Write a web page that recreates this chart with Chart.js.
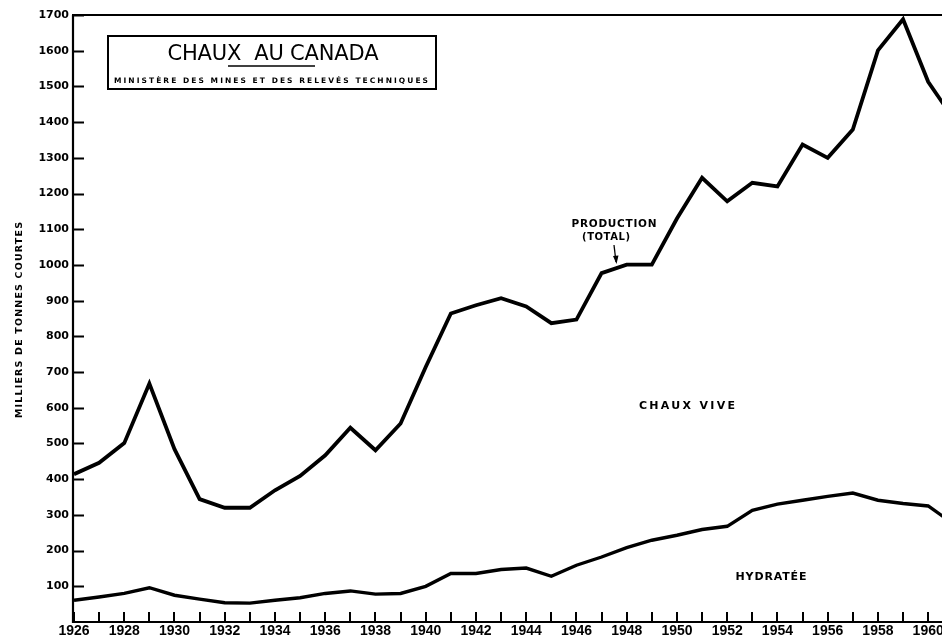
<!DOCTYPE html>
<html>
<head>
<meta charset="utf-8">
<script src="https://cdn.jsdelivr.net/npm/chart.js@4.4.1/dist/chart.umd.min.js"></script>
<style>
html,body{margin:0;padding:0;background:#fff;}
#wrap{width:942px;height:638px;position:relative;}
</style>
</head>
<body>
<div id="wrap"><canvas id="c"></canvas></div>
<script>
const years = [1926,1927,1928,1929,1930,1931,1932,1933,1934,1935,1936,1937,1938,1939,1940,1941,1942,1943,1944,1945,1946,1947,1948,1949,1950,1951,1952,1953,1954,1955,1956,1957,1958,1959,1960,1961];
const totalProduction = [414,446,501,668,484,344,320,320,369,409,467,544,481,556,714,864,887,907,884,837,847,977,1001,1001,1130,1244,1178,1230,1220,1337,1300,1379,1601,1688,1513,1410];
const hydratee = [61,70,80,96,75,64,54,53,61,68,80,87,78,80,100,136,136,147,151,128,159,182,208,229,243,259,268,313,330,341,352,361,341,332,325,275];
const yTickValues = [100,200,300,400,500,600,700,800,900,1000,1100,1200,1300,1400,1500,1600,1700];
const xTickYears = [1926,1927,1928,1929,1930,1931,1932,1933,1934,1935,1936,1937,1938,1939,1940,1941,1942,1943,1944,1945,1946,1947,1948,1949,1950,1951,1952,1953,1954,1955,1956,1957,1958,1959,1960];

const titleText = "CHAUX  AU CANADA";
const subtitleText = "MINISTÈRE DES MINES ET DES RELEVÉS TECHNIQUES";
const yAxisTitle = "MILLIERS DE TONNES COURTES";
const labelTotal1 = "PRODUCTION";
const labelTotal2 = "(TOTAL)";
const labelVive = "CHAUX VIVE";
const labelHyd = "HYDRATÉE";

function spacedText(ctx, text, x, y, targetWidth, align) {
  ctx.letterSpacing = '0px';
  const w = ctx.measureText(text).width;
  let ls = 0;
  if (targetWidth && text.length > 1) ls = (targetWidth - w) / (text.length - 1);
  ctx.letterSpacing = ls + 'px';
  const total = w + ls * (text.length - 1);
  let sx = x;
  if (align === 'center') sx = x - total / 2;
  else if (align === 'right') sx = x - total;
  ctx.textAlign = 'left';
  ctx.fillText(text, sx, y);
  ctx.letterSpacing = '0px';
}

const framePlugin = {
  id: 'frame',
  afterDraw(chart) {
    const ctx = chart.ctx;
    const a = chart.chartArea;
    const xs = chart.scales.x, ys = chart.scales.y;
    ctx.save();
    ctx.strokeStyle = '#000';
    ctx.fillStyle = '#000';
    ctx.lineCap = 'butt';
    // frame lines
    ctx.lineWidth = 2.2;
    ctx.beginPath();
    ctx.moveTo(a.left - 1, a.top);
    ctx.lineTo(a.left - 1, a.bottom);
    ctx.lineTo(a.right, a.bottom);
    ctx.moveTo(a.left - 2, a.top);
    ctx.lineTo(a.right, a.top);
    ctx.stroke();
    // inside ticks y
    ctx.lineWidth = 2;
    ctx.beginPath();
    yTickValues.forEach(v => {
      const py = Math.round(ys.getPixelForValue(v)) + 0.5;
      ctx.moveTo(a.left - 1, py);
      ctx.lineTo(a.left + 10, py);
    });
    ctx.stroke();
    // inside ticks x
    ctx.beginPath();
    xTickYears.forEach(v => {
      const px = Math.round(xs.getPixelForValue(v));
      ctx.moveTo(px, a.bottom);
      ctx.lineTo(px, a.bottom - 10);
    });
    ctx.stroke();

    // title box
    ctx.lineWidth = 2;
    ctx.strokeRect(108, 36, 328, 53);
    ctx.font = '21px "DejaVu Sans"';
    ctx.textBaseline = 'alphabetic';
    spacedText(ctx, titleText, 273, 60, 211, 'center');
    ctx.lineWidth = 1.5;
    ctx.beginPath();
    ctx.moveTo(228, 66);
    ctx.lineTo(315, 66);
    ctx.stroke();
    ctx.font = 'bold 7.5px "DejaVu Sans"';
    spacedText(ctx, subtitleText, 114, 83, 314, 'left');

    // y axis title
    ctx.save();
    ctx.translate(22, 320);
    ctx.rotate(-Math.PI / 2);
    ctx.font = 'bold 9.5px "DejaVu Sans"';
    spacedText(ctx, yAxisTitle, 0, 0, 196, 'center');
    ctx.restore();

    // annotations
    ctx.font = 'bold 10.5px "DejaVu Sans"';
    spacedText(ctx, labelTotal1, 614, 227, 85, 'center');
    ctx.font = 'bold 10px "DejaVu Sans"';
    spacedText(ctx, labelTotal2, 606, 240, 48, 'center');
    ctx.lineWidth = 1.3;
    ctx.beginPath();
    ctx.moveTo(614, 245);
    ctx.lineTo(616, 262);
    ctx.stroke();
    ctx.beginPath();
    ctx.moveTo(613, 256);
    ctx.lineTo(616.5, 264);
    ctx.lineTo(618.5, 255.5);
    ctx.closePath();
    ctx.fill();

    ctx.font = 'bold 11px "DejaVu Sans"';
    spacedText(ctx, labelVive, 687, 409, 96, 'center');
    ctx.font = 'bold 11px "DejaVu Sans"';
    spacedText(ctx, labelHyd, 771, 580, 71, 'center');
    ctx.restore();
  }
};

new Chart(document.getElementById('c'), {
  type: 'line',
  data: {
    datasets: [
      {
        label: 'Production (total)',
        data: years.map((y, i) => ({x: y, y: totalProduction[i]})),
        borderColor: '#000',
        borderWidth: 3.8,
        pointRadius: 0,
        tension: 0,
        borderJoinStyle: 'miter',
        fill: false
      },
      {
        label: 'Hydratée',
        data: years.map((y, i) => ({x: y, y: hydratee[i]})),
        borderColor: '#000',
        borderWidth: 3.4,
        pointRadius: 0,
        tension: 0,
        borderJoinStyle: 'miter',
        fill: false
      }
    ]
  },
  options: {
    responsive: true,
    maintainAspectRatio: false,
    animation: false,
    events: [],
    layout: {padding: {top: 15, right: 0, left: 0, bottom: 0}},
    plugins: {legend: {display: false}, tooltip: {enabled: false}, title: {display: false}},
    scales: {
      x: {
        type: 'linear',
        min: 1926,
        max: 1960.55,
        grid: {display: false, drawTicks: false},
        border: {display: false},
        afterBuildTicks: (s) => { s.ticks = xTickYears.map(v => ({value: v})); },
        afterFit: (s) => { s.height = 16; s.paddingLeft = 0; s.paddingRight = 0; },
        ticks: {
          autoSkip: false,
          maxRotation: 0,
          minRotation: 0,
          padding: 1,
          color: '#000',
          font: {family: '"Liberation Sans", Arial, sans-serif', weight: 'bold', size: 14},
          callback: (v) => (v % 2 === 0 ? String(v) : '')
        }
      },
      y: {
        type: 'linear',
        min: 0,
        max: 1700,
        grid: {display: false, drawTicks: false},
        border: {display: false},
        afterBuildTicks: (s) => { s.ticks = yTickValues.map(v => ({value: v})); },
        afterFit: (s) => { s.width = 74; },
        ticks: {
          padding: 5,
          color: '#000',
          font: {family: '"DejaVu Sans"', weight: 'bold', size: 11},
          callback: (v) => String(v)
        }
      }
    }
  },
  plugins: [framePlugin]
});
</script>
</body>
</html>
